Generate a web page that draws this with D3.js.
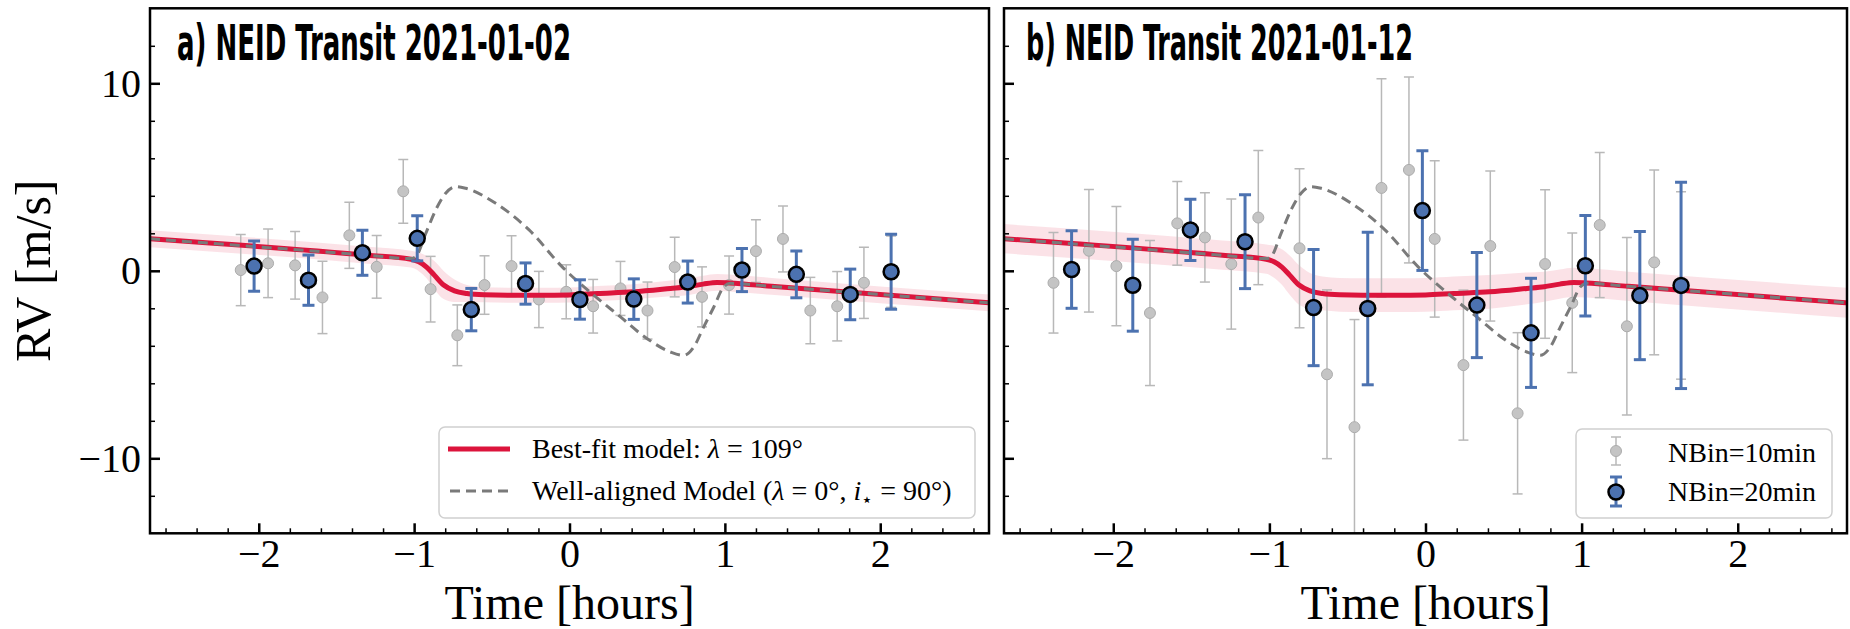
<!DOCTYPE html>
<html>
<head>
<meta charset="utf-8">
<script src="https://cdn.jsdelivr.net/npm/d3@7"></script>
<style>
  body { margin: 0; background: #fff; }
  svg { display: block; }
</style>
</head>
<body>
<div id="chart"></div>
<script>
// ---- model curves (same model in both panels) ----
const bestT  = [-2.7, -1.3, -1.02, -0.97, -0.92, -0.87, -0.81, -0.74, -0.66, -0.55, -0.4, -0.15, 0.0, 0.18, 0.41, 0.65, 0.76, 0.86, 0.95, 1.03, 1.3, 2.7];
const bestRV = [1.71, 0.83, 0.62, 0.48, 0.2, -0.23, -0.76, -1.07, -1.21, -1.28, -1.3, -1.3, -1.29, -1.21, -1.12, -0.94, -0.85, -0.71, -0.62, -0.65, -0.83, -1.71];
const bandHalfA = [0.45, 0.45, 0.45, 0.5, 0.6, 0.75, 0.75, 0.6, 0.45, 0.4, 0.4, 0.4, 0.4, 0.4, 0.4, 0.42, 0.45, 0.45, 0.45, 0.45, 0.45, 0.45];
const bandHalfB = [0.78, 0.78, 0.78, 0.85, 0.95, 1.05, 1.05, 0.95, 0.9, 0.9, 0.9, 0.9, 0.9, 0.9, 0.9, 0.85, 0.8, 0.78, 0.78, 0.78, 0.78, 0.8];

const alignedT  = [-2.7, -1.3, -1.02, -0.99, -0.925, -0.861, -0.797, -0.732, -0.668, -0.475, -0.26, -0.047, 0.156, 0.328, 0.5, 0.65, 0.735, 0.8, 0.864, 0.929, 0.993, 1.035, 1.3, 2.7];
const alignedRV = [1.71, 0.83, 0.65, 0.75, 2.0, 3.25, 4.14, 4.49, 4.4, 3.6, 2.18, 0.21, -1.3, -2.46, -3.62, -4.33, -4.51, -4.06, -2.99, -1.93, -0.85, -0.67, -0.83, -1.71];

// ---- panel a: 2021-01-02 ----
const grayA_t   = [-2.116, -1.94, -1.766, -1.59, -1.417, -1.241, -1.07, -0.894, -0.722, -0.547, -0.373, -0.197, -0.021, 0.152, 0.328, 0.502, 0.677, 0.853, 1.027, 1.2, 1.374, 1.55, 1.723, 1.895, 2.07];
const grayA_rv  = [0.04, 0.4, 0.29, -1.42, 1.89, 0.21, 4.24, -0.98, -3.44, -0.76, 0.25, -1.53, -1.12, -1.89, -0.94, -2.12, 0.2, -1.39, -0.76, 1.05, 1.7, -2.12, -1.89, -0.64, -0.05];
const grayA_err = [1.9, 1.83, 1.8, 1.93, 1.76, 1.67, 1.7, 1.75, 1.62, 1.56, 1.62, 1.5, 1.44, 1.43, 1.44, 1.52, 1.59, 1.6, 1.55, 1.67, 1.76, 1.77, 1.85, 1.9, 1.9];

const blueA_t   = [-2.03, -1.68, -1.333, -0.98, -0.632, -0.283, 0.067, 0.414, 0.761, 1.11, 1.46, 1.807, 2.07];
const blueA_rv  = [0.25, -0.5, 0.96, 1.73, -2.07, -0.68, -1.53, -1.51, -0.6, 0.04, -0.19, -1.26, -0.05];
const blueA_err = [1.34, 1.34, 1.2, 1.2, 1.13, 1.1, 1.05, 1.08, 1.12, 1.15, 1.25, 1.35, 2.0];

// ---- panel b: 2021-01-12 ----
const grayB_t   = [-2.383, -2.156, -1.98, -1.765, -1.59, -1.413, -1.244, -1.071, -0.807, -0.631, -0.455, -0.282, -0.106, 0.059, 0.243, 0.415, 0.59, 0.766, 0.94, 1.116, 1.29, 1.465, 1.637];
const grayB_rv  = [-0.64, 1.07, 0.25, -2.25, 2.53, 1.78, 0.36, 2.84, 1.2, -5.52, -8.34, 4.42, 5.38, 1.7, -5.03, 1.32, -7.6, 0.36, -1.71, 2.44, -2.96, 0.45, -0.78];
const grayB_err = [2.68, 3.27, 3.18, 3.87, 2.23, 2.38, 3.47, 3.58, 4.24, 4.5, 5.74, 5.82, 4.96, 4.17, 4.0, 4.0, 4.3, 3.96, 3.72, 3.87, 4.73, 4.93, 5.0];

const blueB_t   = [-2.267, -1.875, -1.506, -1.156, -0.717, -0.37, -0.02, 0.329, 0.676, 1.024, 1.373, 1.637];
const blueB_rv  = [0.07, -0.77, 2.18, 1.55, -1.96, -2.01, 3.21, -1.83, -3.31, 0.27, -1.32, -0.78];
const blueB_err = [2.07, 2.45, 1.63, 2.5, 3.1, 4.07, 3.19, 2.8, 2.91, 2.68, 3.42, 5.5];

// ---- ticks ----
const xMajor = [-2, -1, 0, 1, 2];
const xMinor = d3.range(-13, 14).map(d => d / 5).filter(d => !xMajor.includes(d));
const yMajor = [-10, 0, 10];
const yMinor = [-12, -8, -6, -4, -2, 2, 4, 6, 8, 12];

const W = 1850, H = 629;
const plotTop = 8.3, plotBottom = 533.3;
const RED = "#DC143C", BLUE = "#4C72B0", DASH = "#7a7a7a";
const SERIF = "'Liberation Serif', 'Times New Roman', serif";

const svg = d3.select("#chart").append("svg")
  .attr("width", W).attr("height", H);

const y = d3.scaleLinear().domain([-14, 14]).range([plotBottom, plotTop]);

const zip = (a, b, c) => a.map((d, i) => ({ t: d, v: b[i], e: c ? c[i] : 0 }));

const panels = [
  { id: "a", title: "a) NEID Transit 2021-01-02", left: 150, right: 989, titleX: 177, titleW: 394,
    gray: zip(grayA_t, grayA_rv, grayA_err), blue: zip(blueA_t, blueA_rv, blueA_err),
    band: bandHalfA, yLabels: true },
  { id: "b", title: "b) NEID Transit 2021-01-12", left: 1004, right: 1847, titleX: 1026, titleW: 387,
    gray: zip(grayB_t, grayB_rv, grayB_err), blue: zip(blueB_t, blueB_rv, blueB_err),
    band: bandHalfB, yLabels: false }
];

const defs = svg.append("defs");

panels.forEach(p => {
  const x = d3.scaleLinear().domain([-2.7, 2.7]).range([p.left, p.right]);

  defs.append("clipPath").attr("id", "clip-" + p.id)
    .append("rect")
    .attr("x", p.left).attr("y", plotTop)
    .attr("width", p.right - p.left).attr("height", plotBottom - plotTop);

  const g = svg.append("g").attr("clip-path", `url(#clip-${p.id})`);

  // confidence band
  const bandData = bestT.map((t, i) => ({ t, lo: bestRV[i] - p.band[i], hi: bestRV[i] + p.band[i] }));
  g.append("path")
    .datum(bandData)
    .attr("d", d3.area().x(d => x(d.t)).y0(d => y(d.lo)).y1(d => y(d.hi)).curve(d3.curveMonotoneX))
    .attr("fill", RED)
    .attr("fill-opacity", 0.12);

  // 10 min bins
  const gr = g.append("g").attr("class", "gray");
  gr.selectAll("line.bar").data(p.gray).enter().append("line")
    .attr("x1", d => x(d.t)).attr("x2", d => x(d.t))
    .attr("y1", d => y(d.v - d.e)).attr("y2", d => y(d.v + d.e))
    .attr("stroke", "#b8b8b8").attr("stroke-width", 1.5);
  [1, -1].forEach(s => {
    gr.selectAll("line.cap" + s).data(p.gray).enter().append("line")
      .attr("x1", d => x(d.t) - 5).attr("x2", d => x(d.t) + 5)
      .attr("y1", d => y(d.v + s * d.e)).attr("y2", d => y(d.v + s * d.e))
      .attr("stroke", "#b8b8b8").attr("stroke-width", 1.5);
  });
  gr.selectAll("circle").data(p.gray).enter().append("circle")
    .attr("cx", d => x(d.t)).attr("cy", d => y(d.v)).attr("r", 5.5)
    .attr("fill", "#c4c4c4").attr("stroke", "#acacac").attr("stroke-width", 1);

  // models
  const line = d3.line().x(d => x(d[0])).y(d => y(d[1])).curve(d3.curveMonotoneX);
  g.append("path")
    .datum(bestT.map((t, i) => [t, bestRV[i]]))
    .attr("d", line)
    .attr("fill", "none").attr("stroke", RED).attr("stroke-width", 5);
  g.append("path")
    .datum(alignedT.map((t, i) => [t, alignedRV[i]]))
    .attr("d", line)
    .attr("fill", "none").attr("stroke", DASH).attr("stroke-width", 3)
    .attr("stroke-dasharray", "10,6");

  // 20 min bins
  const bl = g.append("g").attr("class", "blue");
  bl.selectAll("line.bar").data(p.blue).enter().append("line")
    .attr("x1", d => x(d.t)).attr("x2", d => x(d.t))
    .attr("y1", d => y(d.v - d.e)).attr("y2", d => y(d.v + d.e))
    .attr("stroke", BLUE).attr("stroke-width", 3);
  [1, -1].forEach(s => {
    bl.selectAll("line.cap" + s).data(p.blue).enter().append("line")
      .attr("x1", d => x(d.t) - 6).attr("x2", d => x(d.t) + 6)
      .attr("y1", d => y(d.v + s * d.e)).attr("y2", d => y(d.v + s * d.e))
      .attr("stroke", BLUE).attr("stroke-width", 3);
  });
  bl.selectAll("circle").data(p.blue).enter().append("circle")
    .attr("cx", d => x(d.t)).attr("cy", d => y(d.v)).attr("r", 7.5)
    .attr("fill", BLUE).attr("stroke", "#000").attr("stroke-width", 2.5);

  // axes: inward ticks, bottom and left only
  const xAx = svg.append("g").attr("transform", `translate(0,${plotBottom})`)
    .call(d3.axisBottom(x).tickValues(xMajor).tickSize(-10).tickPadding(5).tickFormat(d3.format("d")));
  svg.append("g").attr("transform", `translate(0,${plotBottom})`)
    .call(d3.axisBottom(x).tickValues(xMinor).tickSize(-5).tickFormat(""))
    .selectAll("line").attr("stroke-width", 1.5);
  const yAx = svg.append("g").attr("transform", `translate(${p.left},0)`)
    .call(d3.axisLeft(y).tickValues(yMajor).tickSize(-10).tickPadding(9)
      .tickFormat(p.yLabels ? d3.format("d") : ""));
  svg.append("g").attr("transform", `translate(${p.left},0)`)
    .call(d3.axisLeft(y).tickValues(yMinor).tickSize(-5).tickFormat(""))
    .selectAll("line").attr("stroke-width", 1.5);
  [xAx, yAx].forEach(a => {
    a.selectAll("line").attr("stroke-width", 2.5);
    a.selectAll("text").style("font-family", SERIF).style("font-size", "40px").attr("fill", "#000");
  });
  svg.selectAll(".domain").remove();

  // frame
  svg.append("rect")
    .attr("x", p.left).attr("y", plotTop)
    .attr("width", p.right - p.left).attr("height", plotBottom - plotTop)
    .attr("fill", "none").attr("stroke", "#000").attr("stroke-width", 2.5);

  // title
  svg.append("text")
    .attr("x", p.titleX).attr("y", 60)
    .attr("textLength", p.titleW).attr("lengthAdjust", "spacingAndGlyphs")
    .style("font-family", "'Liberation Sans Narrow', 'DejaVu Sans Condensed', 'Liberation Sans', sans-serif")
    .style("font-weight", "bold")
    .style("font-size", "50px")
    .text(p.title);

  // x label
  svg.append("text")
    .attr("x", (p.left + p.right) / 2).attr("y", 618.5)
    .attr("text-anchor", "middle")
    .style("font-family", SERIF).style("font-size", "48px")
    .text("Time [hours]");
});

// y label
svg.append("text")
  .attr("transform", `translate(50,${(plotTop + plotBottom) / 2}) rotate(-90)`)
  .attr("text-anchor", "middle")
  .style("font-family", SERIF).style("font-size", "50px")
  .text("RV [m/s]");

// ---- legend a ----
const legA = svg.append("g").style("font-family", SERIF).style("font-size", "28px");
legA.append("rect")
  .attr("x", 439).attr("y", 427).attr("width", 536).attr("height", 91).attr("rx", 6)
  .attr("fill", "#fff").attr("fill-opacity", 0.8)
  .attr("stroke", "#d0d0d0").attr("stroke-width", 1.5);
legA.append("line")
  .attr("x1", 448).attr("x2", 510).attr("y1", 449).attr("y2", 449)
  .attr("stroke", RED).attr("stroke-width", 5);
legA.append("line")
  .attr("x1", 450).attr("x2", 508).attr("y1", 491).attr("y2", 491)
  .attr("stroke", DASH).attr("stroke-width", 3).attr("stroke-dasharray", "10,6");
const t1 = legA.append("text").attr("x", 532).attr("y", 458);
t1.append("tspan").text("Best-fit model: ");
t1.append("tspan").style("font-style", "italic").text("λ");
t1.append("tspan").text(" = 109°");
const t2 = legA.append("text").attr("x", 532).attr("y", 500);
t2.append("tspan").text("Well-aligned Model (");
t2.append("tspan").style("font-style", "italic").text("λ");
t2.append("tspan").text(" = 0°, ");
t2.append("tspan").style("font-style", "italic").text("i");
t2.append("tspan").attr("dy", 6).style("font-size", "19px").text("⋆");
t2.append("tspan").attr("dy", -6).text(" = 90°)");

// ---- legend b ----
const legB = svg.append("g").style("font-family", SERIF).style("font-size", "28px");
legB.append("rect")
  .attr("x", 1576).attr("y", 429).attr("width", 256).attr("height", 89).attr("rx", 6)
  .attr("fill", "#fff").attr("fill-opacity", 0.8)
  .attr("stroke", "#d0d0d0").attr("stroke-width", 1.5);
const mx = 1616;
// gray marker
legB.append("line").attr("x1", mx).attr("x2", mx).attr("y1", 437).attr("y2", 465)
  .attr("stroke", "#b8b8b8").attr("stroke-width", 1.5);
[437, 465].forEach(yy => legB.append("line").attr("x1", mx - 5).attr("x2", mx + 5)
  .attr("y1", yy).attr("y2", yy).attr("stroke", "#b8b8b8").attr("stroke-width", 1.5));
legB.append("circle").attr("cx", mx).attr("cy", 451).attr("r", 5.5)
  .attr("fill", "#c4c4c4").attr("stroke", "#acacac");
// blue marker
legB.append("line").attr("x1", mx).attr("x2", mx).attr("y1", 477).attr("y2", 506)
  .attr("stroke", BLUE).attr("stroke-width", 3);
[477, 506].forEach(yy => legB.append("line").attr("x1", mx - 6).attr("x2", mx + 6)
  .attr("y1", yy).attr("y2", yy).attr("stroke", BLUE).attr("stroke-width", 3));
legB.append("circle").attr("cx", mx).attr("cy", 492).attr("r", 7.5)
  .attr("fill", BLUE).attr("stroke", "#000").attr("stroke-width", 2.5);
legB.append("text").attr("x", 1668).attr("y", 462).text("NBin=10min");
legB.append("text").attr("x", 1668).attr("y", 501).text("NBin=20min");
</script>
</body>
</html>
